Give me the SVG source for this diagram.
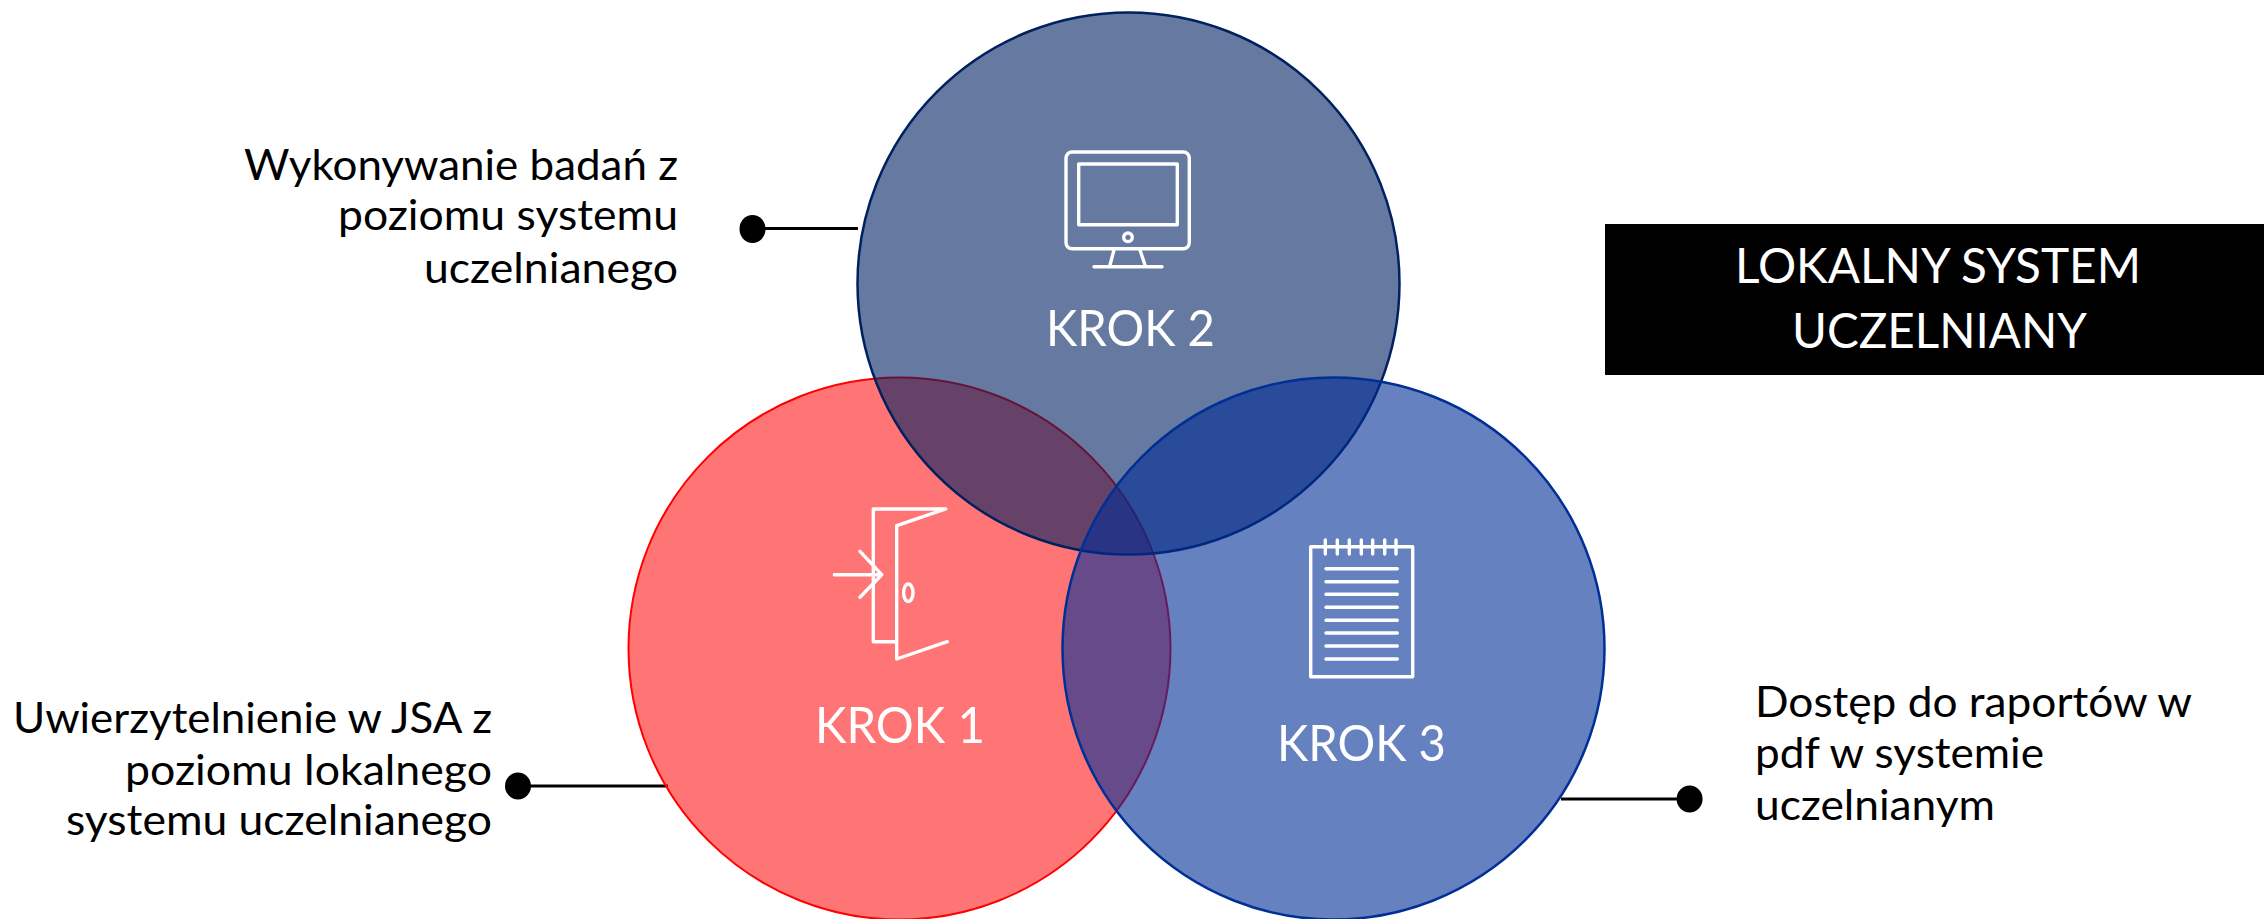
<svg xmlns="http://www.w3.org/2000/svg" width="2264" height="919" viewBox="0 0 2264 919">
<style>
.lbl{font-family:"Lato","Liberation Sans",sans-serif;font-size:42px;fill:#000}
.krok{font-family:"Lato","Liberation Sans",sans-serif;font-size:50px;fill:#fff}
.ttl{font-family:"Lato","Liberation Sans",sans-serif;font-size:48px;fill:#fff}
.ic{fill:none;stroke:#fff;stroke-width:3.4;stroke-linecap:round;stroke-linejoin:round}
.ln{stroke:#000;stroke-width:3;fill:none}
</style>
<rect width="2264" height="919" fill="#fff"/>
<g id="connectors">
<line class="ln" x1="752" y1="228.5" x2="858" y2="228.5"/>
<ellipse cx="752.5" cy="229" rx="13" ry="14"/>
<line class="ln" x1="518" y1="786" x2="668" y2="786"/>
<ellipse cx="518" cy="786" rx="13" ry="13.5"/>
<line class="ln" x1="1561" y1="799" x2="1690" y2="799"/>
<ellipse cx="1689.6" cy="799" rx="13" ry="13.5"/>
</g>
<g id="krok1">
<circle cx="899.5" cy="648.5" r="271" fill="#ff0000" fill-opacity=".54" stroke="#ff0000" stroke-width="2"/>
</g>
<g id="krok2">
<circle cx="1128.5" cy="283.5" r="271" fill="#002060" fill-opacity=".6" stroke="#002060" stroke-width="2.5"/>
</g>
<g id="krok3">
<circle cx="1333.5" cy="648.5" r="271" fill="#002d96" fill-opacity=".6" stroke="#002f96" stroke-width="2.5"/>
</g>
<g id="icon1" class="ic">
<path d="M873.3 641.7V509H945.7L896.7 525.7V659L947.3 641.7M873.3 641.7H896.7M834.3 574.7H881.7M860 551.3L881.7 574.7L860 597.3"/>
<ellipse cx="908.3" cy="592.7" rx="4.7" ry="8.7"/>
</g>
<text class="krok" x="815" y="743" textLength="170" lengthAdjust="spacingAndGlyphs">KROK 1</text>
<g id="icon2" class="ic">
<rect x="1066" y="152" width="123.3" height="96.7" rx="6"/>
<rect x="1078.7" y="164" width="98.6" height="60.7"/>
<circle cx="1128" cy="237.3" r="4.3"/>
<path d="M1114 250L1110 265M1140 250L1145 265M1094 266.7H1162"/>
</g>
<text class="krok" x="1046" y="346" textLength="169" lengthAdjust="spacingAndGlyphs">KROK 2</text>
<g id="icon3" class="ic">
<path d="M1325.3 546.7H1310.7V676.7H1412.7V546.7H1396M1325.3 540V554M1337.3 540V554M1349.3 540V554M1361.3 540V554M1372.7 540V554M1384.7 540V554M1396 540V554M1325.3 546.7H1396"/>
<path d="M1326 568.7H1397.3M1326 581.7H1397.3M1326 594.3H1397.3M1326 607.3H1397.3M1326 620.3H1397.3M1326 633H1397.3M1326 646H1397.3M1326 659H1397.3"/>
</g>
<text class="krok" x="1277" y="761" textLength="169" lengthAdjust="spacingAndGlyphs">KROK 3</text>
<g id="label2">
<text class="lbl" x="244" y="180" textLength="434" lengthAdjust="spacingAndGlyphs">Wykonywanie badań z</text>
<text class="lbl" x="338" y="230" textLength="340" lengthAdjust="spacingAndGlyphs">poziomu systemu</text>
<text class="lbl" x="424" y="283" textLength="254" lengthAdjust="spacingAndGlyphs">uczelnianego</text>
</g>
<g id="label1">
<text class="lbl" x="13" y="733" textLength="479" lengthAdjust="spacingAndGlyphs">Uwierzytelnienie w JSA z</text>
<text class="lbl" x="125" y="785" textLength="367" lengthAdjust="spacingAndGlyphs">poziomu lokalnego</text>
<text class="lbl" x="66" y="835" textLength="426" lengthAdjust="spacingAndGlyphs">systemu uczelnianego</text>
</g>
<g id="label3">
<text class="lbl" x="1755" y="717" textLength="437" lengthAdjust="spacingAndGlyphs">Dostęp do raportów w</text>
<text class="lbl" x="1755" y="768" textLength="289" lengthAdjust="spacingAndGlyphs">pdf w systemie</text>
<text class="lbl" x="1755" y="820" textLength="240" lengthAdjust="spacingAndGlyphs">uczelnianym</text>
</g>
<g id="title">
<rect x="1605" y="224" width="659" height="151" fill="#000"/>
<text class="ttl" x="1735" y="283" textLength="406" lengthAdjust="spacingAndGlyphs">LOKALNY SYSTEM</text>
<text class="ttl" x="1792" y="348" textLength="295" lengthAdjust="spacingAndGlyphs">UCZELNIANY</text>
</g>
</svg>
